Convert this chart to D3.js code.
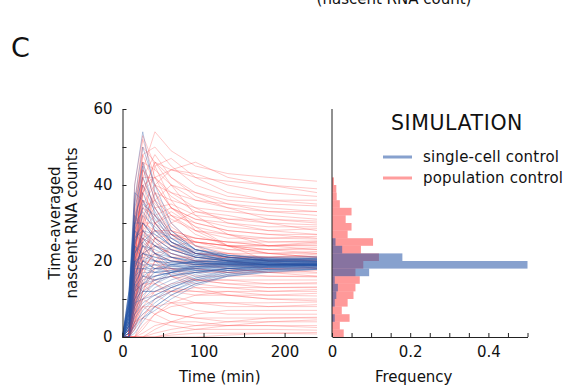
<!DOCTYPE html>
<html>
<head>
<meta charset="utf-8">
<script src="https://cdn.jsdelivr.net/npm/d3@7"></script>
<style>
  html, body { margin: 0; padding: 0; background: #fff; }
  svg { display: block; font-family: "DejaVu Sans", Verdana, sans-serif; }
</style>
</head>
<body>
<div id="chart"></div>
<script>
// sample times (min) for every trace
const times = [0, 8, 15, 25, 40, 60, 90, 130, 180, 240];

// population control traces (time-averaged nascent RNA counts)
const redTraces = [
    [0, 0, 18, 44, 54, 49, 45, 43, 42, 41],
    [0, 0, 30, 50, 46, 44, 42, 41, 40, 39],
    [0, 2, 25, 40, 42, 44, 43, 40, 38, 37],
    [0, 0, 10, 30, 45, 47, 42, 38, 36, 35],
    [0, 0, 22, 42, 48, 42, 38, 36, 35, 34.5],
    [0, 0, 15, 35, 40, 38, 36, 35, 34, 33],
    [0, 0, 28, 46, 44, 40, 36, 34, 33, 33],
    [0, 0, 8, 25, 38, 36, 34, 33, 32, 31],
    [0, 1, 20, 38, 42, 37, 33, 31, 31, 30.5],
    [0, 0, 12, 30, 34, 35, 32, 31, 30, 29.5],
    [0, 0, 30, 48, 40, 34, 31, 30, 29, 29],
    [0, 0, 18, 28, 32, 34, 31, 29, 28, 28.5],
    [0, 0, 6, 22, 30, 32, 30, 28, 27, 27],
    [0, 0, 25, 40, 35, 31, 28, 27, 26, 26.5],
    [0, 3, 22, 34, 36, 32, 28, 26, 26, 25.8],
    [0, 0, 14, 26, 28, 28, 26, 25, 25, 25.3],
    [0, 0, 35, 52, 42, 34, 29, 27, 25, 25],
    [0, 0, 10, 20, 26, 27, 26, 25, 24, 24.6],
    [0, 0, 20, 30, 30, 27, 25, 24, 24, 24.2],
    [0, 0, 4, 16, 24, 26, 25, 24, 23, 23.5],
    [0, 0, 26, 38, 32, 27, 24, 23, 23, 23],
    [0, 0, 12, 24, 26, 24, 23, 22, 22, 22.5],
    [0, 0, 18, 30, 28, 25, 22, 22, 21, 21.8],
    [0, 0, 8, 18, 22, 23, 22, 21, 21, 21.3],
    [0, 0, 22, 36, 30, 25, 22, 21, 21, 21],
    [0, 0, 5, 14, 20, 21, 21, 21, 20, 20.6],
    [0, 0, 30, 42, 34, 27, 22, 21, 20, 20.2],
    [0, 0, 10, 22, 24, 22, 20, 20, 19, 19.6],
    [0, 0, 16, 26, 24, 22, 20, 19, 19, 19],
    [0, 0, 3, 12, 18, 20, 19, 19, 18, 18.4],
    [0, 0, 20, 28, 25, 21, 19, 18, 17, 17.5],
    [0, 0, 6, 15, 18, 18, 17, 17, 17, 16.8],
    [0, 0, 24, 32, 26, 21, 18, 17, 16, 15.8],
    [0, 0, 2, 8, 12, 14, 15, 15, 15, 15],
    [0, 0, 12, 20, 19, 17, 15, 15, 14, 14.3],
    [0, 0, 0, 5, 10, 12, 13, 13, 13, 13.2],
    [0, 0, 18, 24, 20, 16, 14, 13, 12, 12.5],
    [0, 0, 4, 10, 12, 12, 12, 12, 11, 11.5],
    [0, 0, 8, 14, 14, 12, 11, 11, 11, 10.8],
    [0, 0, 0, 3, 6, 8, 9, 9, 9, 9.2],
    [0, 0, 14, 18, 14, 11, 9, 9, 8, 8.5],
    [0, 0, 0, 0, 2, 4, 6, 7, 7, 7],
    [0, 0, 4, 8, 8, 6, 5, 5, 5, 5.2],
    [0, 0, 0, 0, 0, 1, 2, 3, 4, 4.5],
    [0, 0, 6, 8, 6, 4, 3, 3, 3, 3],
    [0, 0, 0, 0, 0, 0, 0, 0.5, 1, 1.2],
    [0, 0, 40, 53, 45, 36, 28, 24, 22, 21],
    [0, 0, 20, 38, 46, 40, 32, 27, 24, 23],
    [0, 0, 26, 44, 38, 30, 24, 20, 18, 17],
    [0, 0, 8, 20, 30, 33, 29, 24, 20, 18],
    [0, 0, 12, 28, 40, 44, 46, 42, 40, 38],
    [0, 0, 32, 48, 50, 45, 40, 37, 36, 36],
    [0, 1, 16, 32, 36, 40, 38, 35, 33, 32],
    [0, 0, 24, 38, 46, 42, 37, 34, 31, 30],
    [0, 0, 6, 18, 26, 30, 33, 32, 30, 28],
    [0, 0, 20, 44, 40, 34, 30, 28, 27, 26],
    [0, 2, 28, 36, 34, 28, 26, 25, 24, 24],
    [0, 0, 14, 30, 38, 32, 27, 24, 23, 22],
    [0, 0, 8, 22, 28, 27, 25, 24, 24, 25],
    [0, 0, 36, 46, 36, 29, 25, 23, 22, 22],
    [0, 0, 4, 12, 20, 24, 25, 24, 22, 21],
    [0, 0, 18, 34, 32, 28, 24, 22, 20, 20],
    [0, 0, 10, 18, 22, 20, 20, 21, 21, 20],
    [0, 0, 24, 30, 26, 23, 21, 20, 19, 19],
    [0, 0, 2, 10, 16, 18, 18, 17, 18, 18],
    [0, 0, 16, 22, 20, 18, 16, 16, 16, 16],
    [0, 0, 30, 40, 30, 24, 20, 18, 17, 16],
    [0, 0, 6, 12, 15, 16, 15, 14, 14, 14],
    [0, 0, 20, 26, 22, 18, 15, 14, 13, 13],
    [0, 0, 0, 2, 6, 9, 11, 12, 12, 12],
    [0, 0, 10, 16, 15, 13, 12, 11, 10, 10],
    [0, 0, 22, 28, 22, 16, 13, 11, 10, 9.5],
    [0, 0, 3, 6, 8, 9, 9, 8, 8, 8],
    [0, 0, 12, 14, 11, 9, 7, 6, 6, 6],
    [0, 0, 0, 0, 1, 2, 3, 4, 5, 5],
    [0, 0, 8, 10, 8, 6, 5, 4, 4, 4],
    [0, 0, 0, 1, 3, 4, 4, 3, 3, 2.5],
    [0, 0, 4, 5, 4, 3, 2, 2, 2, 1.8],
    [0, 0, 0, 0, 0, 0.5, 1, 1, 1, 0.8],
    [0, 0, 28, 42, 42, 38, 34, 30, 28, 27]
];

// single-cell control traces
const blueTraces = [
    [0, 5, 40, 54, 38, 28, 23, 21, 20, 19.5],
    [0, 10, 35, 45, 32, 25, 21, 20, 19.5, 19.2],
    [0, 8, 30, 40, 33, 26, 22, 20, 19.5, 19],
    [0, 12, 38, 36, 28, 24, 21, 20, 19, 19],
    [0, 6, 28, 34, 30, 25, 22, 20.5, 20, 19.8],
    [0, 4, 24, 32, 29, 25, 22, 21, 20, 20],
    [0, 10, 30, 30, 26, 23, 21, 20, 19.5, 19.3],
    [0, 2, 20, 28, 27, 24, 21.5, 20.5, 20, 19.6],
    [0, 8, 26, 28, 25, 22, 20.5, 19.5, 19, 18.8],
    [0, 5, 22, 26, 24, 22, 20, 19.5, 19, 19],
    [0, 12, 28, 26, 22, 20, 19, 19, 19, 18.8],
    [0, 3, 18, 24, 23, 21, 20, 19.5, 19.2, 19.1],
    [0, 6, 20, 22, 21, 20, 19.5, 19.2, 19, 19],
    [0, 9, 24, 22, 20, 19, 18.5, 18.5, 18.8, 18.9],
    [0, 2, 15, 20, 20, 19.5, 19, 19, 19, 19.2],
    [0, 4, 16, 18, 18, 18, 18.5, 18.7, 19, 19],
    [0, 7, 18, 18, 17, 17.5, 18, 18.5, 18.8, 18.9],
    [0, 1, 10, 15, 16, 17, 17.8, 18.3, 18.7, 18.8],
    [0, 3, 12, 14, 15, 16, 17.5, 18, 18.5, 18.7],
    [0, 0, 6, 10, 13, 15, 17, 18, 18.5, 18.6],
    [0, 1, 8, 12, 14, 16, 17, 18, 18.2, 18.5],
    [0, 0, 3, 7, 10, 13, 15.5, 17, 17.8, 18.2],
    [0, 0, 1, 4, 8, 11, 14, 16, 17, 17.8],
    [0, 5, 25, 30, 26, 23, 21, 20.5, 20.2, 20.2],
    [0, 8, 32, 38, 30, 25, 22.5, 21, 20.5, 20.4],
    [0, 6, 22, 27, 24, 21, 19.5, 19, 19.2, 19.4],
    [0, 3, 14, 19, 19, 18, 18, 18.5, 19, 19.1],
    [0, 10, 34, 42, 34, 27, 23, 21.5, 20.5, 20],
    [0, 0, 8, 14, 16, 17, 18, 18.8, 19, 19.2],
    [0, 4, 19, 22, 21, 20, 19.4, 19.3, 19.3, 19.3],
    [0, 2, 10, 12, 12, 13.5, 16, 17.5, 18.2, 18.5],
    [0, 0, 2, 5, 7, 10, 13.5, 16, 17.2, 17.8],
    [0, 7, 28, 46, 36, 28, 23, 21, 20, 19.7],
    [0, 9, 30, 33, 28, 24, 21.5, 20.3, 19.8, 19.5],
    [0, 3, 12, 20, 22, 21, 20, 19.6, 19.4, 19.3],
    [0, 6, 18, 24, 22, 20, 19, 19.5, 20, 20.8],
    [0, 9, 26, 30, 27, 24, 22, 21.5, 21, 21.2],
    [0, 4, 14, 18, 19, 19, 19.5, 20, 20.5, 20.6],
    [0, 2, 9, 13, 15, 17, 18.5, 19.5, 20, 20.3],
    [0, 11, 32, 28, 24, 21, 19.5, 19, 18.5, 18.3],
    [0, 7, 20, 19, 17, 16.5, 17, 17.5, 17.8, 18],
    [0, 5, 16, 22, 24, 23, 21, 20, 19.8, 19.9],
    [0, 3, 11, 16, 18, 19, 19.8, 20.2, 20.4, 20.5],
    [0, 8, 22, 25, 22, 19, 17.5, 17.5, 17.8, 17.9],
    [0, 1, 6, 9, 11, 13, 15, 16.5, 17.5, 18],
    [0, 10, 36, 50, 40, 30, 24, 21.5, 20.5, 20],
    [0, 6, 24, 35, 32, 27, 23, 21, 20.2, 19.9],
    [0, 4, 13, 16, 16, 17, 18.2, 19, 19.5, 19.7],
    [0, 8, 28, 24, 20, 18.5, 18.5, 19, 19.2, 19.3],
    [0, 12, 30, 36, 31, 26, 22, 20, 19.2, 18.9],
    [0, 2, 7, 11, 14, 17, 19, 20, 20.5, 20.7],
    [0, 5, 17, 20, 18, 17, 17.5, 18, 18.3, 18.4],
    [0, 9, 20, 16, 15, 16, 17, 18, 18.6, 18.9],
    [0, 3, 15, 25, 28, 26, 23, 21.5, 20.8, 20.5],
    [0, 7, 24, 20, 18, 18.5, 19, 19.5, 19.7, 19.8],
    [0, 1, 5, 8, 10, 12, 14.5, 16.5, 17.8, 18.4],
    [0, 3, 9, 10, 11, 13, 15.5, 17.5, 18.5, 19],
    [0, 0, 4, 6, 9, 12, 15, 17, 18.3, 18.9],
    [0, 6, 14, 12, 12, 14, 16.5, 18, 18.8, 19.2],
    [0, 2, 12, 17, 17, 17.5, 18.5, 19.3, 19.6, 19.8],
    [0, 8, 20, 21, 20, 19.5, 19.7, 20, 20.2, 20.3],
    [0, 4, 10, 14, 17, 19, 20, 20.6, 20.8, 20.9],
    [0, 1, 3, 5, 8, 11, 14, 16.2, 17.4, 17.9]
];

// histogram of final counts, bins of 2 starting at 0
const binStarts = [0, 2, 4, 6, 8, 10, 12, 14, 16, 18, 20, 22, 24, 26, 28, 30, 32, 34, 36, 38, 40];
const redFreq   = [0.03, 0.02, 0.045, 0.025, 0.04, 0.055, 0.06, 0.071, 0.06, 0.08, 0.12, 0.074, 0.105, 0.04, 0.05, 0.035, 0.05, 0.02, 0.012, 0.011, 0.005];
const blueFreq  = [0, 0, 0.007, 0, 0.007, 0.011, 0.015, 0.007, 0.095, 0.5, 0.18, 0.026, 0.009, 0, 0, 0, 0, 0, 0, 0, 0];
const binWidth = 2;

const timeTicks = [0, 50, 100, 150, 200];
const timeLabels = [0, 100, 200];
const countTicks = [0, 10, 20, 30, 40, 50, 60];
const countLabels = [0, 20, 40, 60];
const freqTicks = [0, 0.05, 0.1, 0.15, 0.2, 0.25, 0.3, 0.35, 0.4, 0.45, 0.5];
const freqLabels = [0, 0.2, 0.4];

const legendItems = ["single-cell control", "population control"];

const W = 566, H = 392;
const RED = "#ff4d4d", BLUE = "#2453a6";
const AXIS = "#222";

const svg = d3.select("#chart").append("svg")
    .attr("width", W)
    .attr("height", H);

// shared vertical scale
const y = d3.scaleLinear().domain([0, 60]).range([337, 109]);
const x = d3.scaleLinear().domain([0, 240]).range([122.5, 317]);
const xf = d3.scaleLinear().domain([0, 0.5]).range([332, 527.5]);

// panel letter and clipped header
svg.append("text")
    .attr("x", 11).attr("y", 57)
    .attr("font-size", 27)
    .attr("fill", "#111")
    .text("C");

svg.append("text")
    .attr("x", 394).attr("y", 4)
    .attr("text-anchor", "middle")
    .attr("font-size", 15)
    .attr("fill", "#111")
    .text("(nascent RNA count)");

// ---- left panel: traces ----
const line = d3.line()
    .x((d, i) => x(times[i]))
    .y(d => y(d));

const traces = svg.append("g");

traces.selectAll("path.red")
    .data(redTraces)
    .join("path")
    .attr("class", "red")
    .attr("fill", "none")
    .attr("stroke", RED)
    .attr("stroke-opacity", 0.3)
    .attr("stroke-width", 1)
    .attr("d", line);

traces.selectAll("path.blue")
    .data(blueTraces)
    .join("path")
    .attr("class", "blue")
    .attr("fill", "none")
    .attr("stroke", BLUE)
    .attr("stroke-opacity", 0.32)
    .attr("stroke-width", 1)
    .attr("d", line);

// left panel axes (ticks point inward)
const gx = svg.append("g")
    .attr("transform", `translate(0,${y(0)})`)
    .call(d3.axisBottom(x).tickValues(timeTicks).tickSizeInner(-4).tickSizeOuter(0)
        .tickFormat(d => timeLabels.includes(d) ? d : ""));

const gy = svg.append("g")
    .attr("transform", `translate(${x(0)},0)`)
    .call(d3.axisLeft(y).tickValues(countTicks).tickSizeInner(-4).tickSizeOuter(0)
        .tickFormat(d => countLabels.includes(d) ? d : ""));

// ---- right panel: histogram ----
const hist = svg.append("g");

hist.selectAll("rect.red")
    .data(binStarts)
    .join("rect")
    .attr("class", "red")
    .attr("x", xf(0))
    .attr("y", d => y(d + binWidth))
    .attr("width", (d, i) => xf(redFreq[i]) - xf(0))
    .attr("height", d => y(d) - y(d + binWidth))
    .attr("fill", "#ff0000")
    .attr("fill-opacity", 0.4);

hist.selectAll("rect.blue")
    .data(binStarts)
    .join("rect")
    .attr("class", "blue")
    .attr("x", xf(0))
    .attr("y", d => y(d + binWidth))
    .attr("width", (d, i) => xf(blueFreq[i]) - xf(0))
    .attr("height", d => y(d) - y(d + binWidth))
    .attr("fill", BLUE)
    .attr("fill-opacity", 0.55);

const gf = svg.append("g")
    .attr("transform", `translate(0,${y(0)})`)
    .call(d3.axisBottom(xf).tickValues(freqTicks).tickSizeInner(-4).tickSizeOuter(0)
        .tickFormat(d => freqLabels.includes(d) ? d : ""));

svg.append("line")
    .attr("x1", xf(0)).attr("x2", xf(0))
    .attr("y1", y(60)).attr("y2", y(0))
    .attr("stroke", AXIS)
    .attr("stroke-width", 1);

// axis styling
[gx, gy, gf].forEach(g => {
    g.select(".domain").attr("stroke", AXIS).attr("stroke-width", 1);
    g.selectAll(".tick line").attr("stroke", AXIS);
    g.selectAll(".tick text")
        .attr("font-family", "DejaVu Sans, sans-serif")
        .attr("font-size", 15)
        .attr("fill", "#111");
});
gx.selectAll(".tick text").attr("y", 9);
gf.selectAll(".tick text").attr("y", 9);
gy.selectAll(".tick text").attr("x", -10);

// axis titles
svg.append("text")
    .attr("x", x(120)).attr("y", 382)
    .attr("text-anchor", "middle")
    .attr("font-size", 15)
    .attr("fill", "#111")
    .text("Time (min)");

svg.append("text")
    .attr("x", xf(0.25) - 16).attr("y", 382)
    .attr("text-anchor", "middle")
    .attr("font-size", 15)
    .attr("fill", "#111")
    .text("Frequency");

const yTitle = svg.append("text")
    .attr("transform", "translate(0,223) rotate(-90)")
    .attr("text-anchor", "middle")
    .attr("font-size", 15)
    .attr("fill", "#111");
yTitle.append("tspan").attr("x", 0).attr("y", 60).text("Time-averaged");
yTitle.append("tspan").attr("x", 0).attr("y", 77).text("nascent RNA counts");

// ---- legend ----
svg.append("text")
    .attr("x", 457).attr("y", 130)
    .attr("text-anchor", "middle")
    .attr("font-size", 20.5)
    .attr("letter-spacing", 0.6)
    .attr("fill", "#111")
    .text("SIMULATION");

const legend = svg.append("g");
legendItems.forEach((label, i) => {
    const ly = 157 + i * 21;
    legend.append("line")
        .attr("x1", 383).attr("x2", 412)
        .attr("y1", ly).attr("y2", ly)
        .attr("stroke", i === 0 ? BLUE : RED)
        .attr("stroke-opacity", 0.55)
        .attr("stroke-width", 3);
    legend.append("text")
        .attr("x", 423).attr("y", ly + 5)
        .attr("font-size", 15)
        .attr("letter-spacing", 0.2)
        .attr("fill", "#111")
        .text(label);
});
</script>
</body>
</html>
